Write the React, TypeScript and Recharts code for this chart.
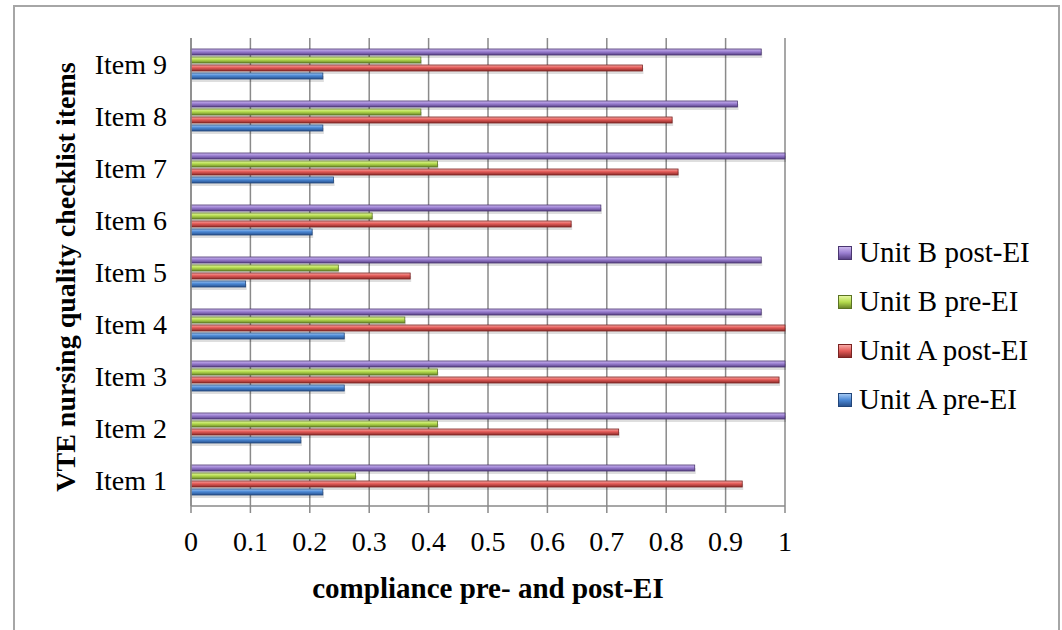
import React from 'react';
import { BarChart, Bar, XAxis, YAxis, CartesianGrid } from 'recharts';

const categories = ['Item 1', 'Item 2', 'Item 3', 'Item 4', 'Item 5', 'Item 6', 'Item 7', 'Item 8', 'Item 9'];
const unitAPre = [0.222, 0.185, 0.258, 0.258, 0.092, 0.204, 0.24, 0.222, 0.222];
const unitAPost = [0.928, 0.72, 0.99, 1.0, 0.369, 0.64, 0.82, 0.81, 0.76];
const unitBPre = [0.277, 0.415, 0.415, 0.36, 0.248, 0.305, 0.415, 0.387, 0.387];
const unitBPost = [0.848, 1.0, 1.0, 0.96, 0.96, 0.69, 1.0, 0.92, 0.96];
const xTicks = [0, 0.1, 0.2, 0.3, 0.4, 0.5, 0.6, 0.7, 0.8, 0.9, 1];

// Item 9 sits on top, so the table runs from the last item to the first
const data = categories
  .map((item, i) => ({
    item,
    unitAPre: unitAPre[i],
    unitAPost: unitAPost[i],
    unitBPre: unitBPre[i],
    unitBPost: unitBPost[i],
  }))
  .reverse();

const SERIES = [
  { key: 'unitBPost', name: 'Unit B post-EI', stops: ['#cdb9ef', '#9a7fd1', '#5a4387'], stroke: '#4a3670' },
  { key: 'unitBPre', name: 'Unit B pre-EI', stops: ['#e6f7a2', '#b5dc4e', '#6c882a'], stroke: '#5b7323' },
  { key: 'unitAPost', name: 'Unit A post-EI', stops: ['#f8aaa7', '#e35a57', '#8c2d2b'], stroke: '#7a2322' },
  { key: 'unitAPre', name: 'Unit A pre-EI', stops: ['#a3c8f3', '#4b88d5', '#2a538f'], stroke: '#22467a' },
];

const FONT = '"Liberation Serif", "Times New Roman", serif';
const GRID = '#8a8a8a';

const BarShape = (props: any) => {
  const { x, y, width, height, fill, stroke } = props;
  if (!width || width <= 0) return null;
  return (
    <g>
      <rect x={x + 1} y={y + 3} width={width} height={height} fill="#000" opacity={0.13} />
      <rect x={x} y={y} width={width} height={height} fill={fill} stroke={stroke} strokeWidth={0.8} />
    </g>
  );
};

export default function App() {
  return (
    <div
      style={{
        position: 'absolute',
        left: 0,
        top: 0,
        width: 1062,
        height: 630,
        overflow: 'hidden',
        background: '#fff',
        fontFamily: FONT,
      }}
    >
      <div
        style={{
          position: 'absolute',
          left: 13,
          top: 5,
          width: 1047,
          height: 700,
          border: '2px solid #a6a6a6',
          boxSizing: 'border-box',
        }}
      />

      <div style={{ position: 'absolute', left: 0, top: 0 }}>
        <BarChart
          width={1062}
          height={630}
          data={data}
          layout="vertical"
          margin={{ top: 38, right: 277, bottom: 64, left: 0 }}
          barSize={6}
          barGap={2}
        >
          <defs>
            {SERIES.map(s => (
              <linearGradient key={s.key} id={`grad-${s.key}`} x1="0" y1="0" x2="0" y2="1">
                <stop offset="0%" stopColor={s.stops[0]} />
                <stop offset="45%" stopColor={s.stops[1]} />
                <stop offset="100%" stopColor={s.stops[2]} />
              </linearGradient>
            ))}
          </defs>
          <CartesianGrid horizontal={false} stroke={GRID} strokeWidth={1.5} />
          <XAxis
            type="number"
            domain={[0, 1]}
            ticks={xTicks}
            height={60}
            axisLine={{ stroke: GRID, strokeWidth: 1.5 }}
            tickLine={{ stroke: GRID, strokeWidth: 1.5 }}
            tickSize={7}
            tickMargin={18}
            tick={{ fill: '#000', fontSize: 28, fontFamily: FONT }}
          />
          <YAxis
            type="category"
            dataKey="item"
            width={191}
            axisLine={{ stroke: GRID, strokeWidth: 1.5 }}
            tickLine={false}
            tickSize={0}
            tickMargin={24}
            tick={{ fill: '#000', fontSize: 28, fontFamily: FONT }}
          />
          {SERIES.map(s => (
            <Bar
              key={s.key}
              dataKey={s.key}
              name={s.name}
              fill={`url(#grad-${s.key})`}
              stroke={s.stroke}
              shape={<BarShape />}
              isAnimationActive={false}
            />
          ))}
        </BarChart>
      </div>

      <div
        style={{
          position: 'absolute',
          left: 0,
          top: 572,
          width: 976,
          lineHeight: '32px',
          textAlign: 'center',
          fontSize: 29,
          fontWeight: 'bold',
        }}
      >
        compliance pre- and post-EI
      </div>

      <div
        style={{
          position: 'absolute',
          left: 66 - 250,
          top: 277 - 16,
          width: 500,
          height: 32,
          lineHeight: '32px',
          textAlign: 'center',
          fontSize: 28,
          fontWeight: 'bold',
          transform: 'rotate(-90deg)',
          transformOrigin: 'center',
          whiteSpace: 'nowrap',
        }}
      >
        VTE nursing quality checklist items
      </div>

      <ul style={{ position: 'absolute', left: 838, top: 228, margin: 0, padding: 0, listStyle: 'none' }}>
        {SERIES.map(s => (
          <li key={s.key} style={{ display: 'flex', alignItems: 'center', height: 49, fontSize: 29, color: '#000' }}>
            <span
              style={{
                display: 'inline-block',
                width: 14,
                height: 14,
                marginRight: 7,
                boxSizing: 'border-box',
                border: `1px solid ${s.stroke}`,
                background: `linear-gradient(to bottom, ${s.stops[0]}, ${s.stops[1]} 50%, ${s.stops[2]})`,
              }}
            />
            <span style={{ whiteSpace: 'nowrap' }}>{s.name}</span>
          </li>
        ))}
      </ul>
    </div>
  );
}
